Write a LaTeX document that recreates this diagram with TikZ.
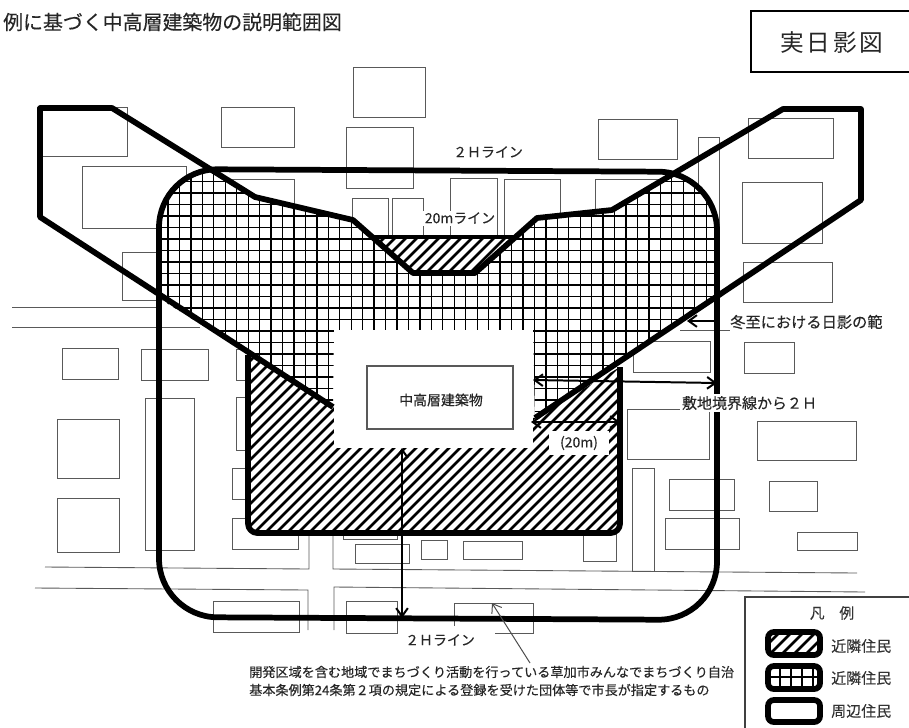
\documentclass[tikz,border=0pt]{standalone}
\usepackage{fontspec}
\setmainfont[FakeBold=.25]{Noto Sans CJK JP}
\newfontfamily\boxfont[LetterSpace=12]{Noto Sans CJK JP}
\usetikzlibrary{arrows.meta}
\tikzset{
  bldg/.style={draw=black!65,line width=.75pt},
  heavy/.style={draw=black,line width=4.9pt,line join=round},
  dim/.style={draw=black,line width=1.7pt,<->},
  note/.style={draw=black!70,line width=.85pt,->},
  gridline/.style={draw=black,line width=1.1pt},
  diagline/.style={draw=black,line width=2.2pt},
  lbl/.style={inner sep=0pt,text=black!85,font=\fontsize{11.9}{14}\selectfont},
  whitelbl/.style={lbl,fill=white,inner sep=1.5pt},
  lgnd/.style={inner sep=0pt,text=black!80,font=\fontsize{12.8}{15}\selectfont,anchor=west},
  swatch/.style={draw=black,line width=4.9pt,rounded corners=5pt},
  >={Straight Barb[length=7pt,width=10pt]}
}
\begin{document}
\begin{tikzpicture}[x=.03cm,y=-.03cm]
  \useasboundingbox (0,0) rectangle (909,727);

  \draw[bldg] (37,107) rectangle (127,156);
  \draw[bldg] (82,166) rectangle (186,228);
  \draw[bldg] (221,107) rectangle (294,147);
  \draw[bldg] (353,67) rectangle (425,117);
  \draw[bldg] (346,127) rectangle (413,188);
  \draw[bldg] (226,179) rectangle (294,215);
  \draw[bldg] (352,198) rectangle (388,240);
  \draw[bldg] (392,198) rectangle (423,240);
  \draw[bldg] (450,178) rectangle (497,240);
  \draw[bldg] (504,179) rectangle (560,240);
  \draw[bldg] (595,179) rectangle (665,215);
  \draw[bldg] (598,119) rectangle (677,159);
  \draw[bldg] (698,137) rectangle (719,240);
  \draw[bldg] (748,118) rectangle (833,158);
  \draw[bldg] (742,182) rectangle (822,243);
  \draw[bldg] (122,252) rectangle (170,300);
  \draw[bldg] (743,262) rectangle (832,302);

  \draw[bldg] (62,348) rectangle (118,379);
  \draw[bldg] (141,349) rectangle (208,380);
  \draw[bldg] (236,349) rectangle (260,380);
  \draw[bldg] (236,397) rectangle (260,450);
  \draw[bldg] (232,468) rectangle (260,499);
  \draw[bldg] (232,518) rectangle (298,549);
  \draw[bldg] (145,398) rectangle (194,550);
  \draw[bldg] (57,419) rectangle (119,478);
  \draw[bldg] (57,498) rectangle (119,552);
  \draw[bldg] (633,341) rectangle (710,372);
  \draw[bldg] (744,342) rectangle (794,373);
  \draw[bldg] (627,409) rectangle (709,459);
  \draw[bldg] (757,421) rectangle (856,460);
  \draw[bldg] (632,468) rectangle (654,571);
  \draw[bldg] (669,479) rectangle (734,510);
  \draw[bldg] (769,481) rectangle (817,511);
  \draw[bldg] (665,518) rectangle (739,549);
  \draw[bldg] (797,532) rectangle (857,550);

  \draw[bldg] (343,520) rectangle (397,539);
  \draw[bldg] (355,544) rectangle (409,563);
  \draw[bldg] (421,540) rectangle (447,559);
  \draw[bldg] (463,541) rectangle (522,559);
  \draw[bldg] (583,520) rectangle (616,561);
  \draw[bldg] (213,601) rectangle (299,632);
  \draw[bldg] (346,601) rectangle (397,633);
  \draw[bldg] (454,626) -- (454,603) -- (533,603) -- (533,633) -- (495,633);

  \draw[bldg] (12,307) -- (160,307);
  \draw[bldg] (12,327) -- (200,327);
  \draw[bldg] (680,330) -- (730,330);
  \draw[bldg] (45,567) -- (309,569) -- (309,533);
  \draw[bldg] (333,533) -- (333,569) -- (857,573);
  \draw[bldg] (35,588) -- (308,590) -- (308,630);
  \draw[bldg] (334,630) -- (334,587) -- (865,592);

  \begin{scope}
    \clip (208,170) -- (255,197) -- (353,220) -- (413,273) -- (475,273) -- (537,218) -- (612,210) -- (675,175)
      .. controls (700,185) and (717,210) .. (717,232) -- (717,298) -- (535,418) -- (533,330) -- (334,330) -- (333,407)
      -- (157,297) -- (159,229) .. controls (159,200) and (180,175) .. (208,170) -- cycle;
    \fill[white] (150,160) rectangle (730,430);
    \foreach \n in {0,...,48} \draw[gridline] ({168+11.45*\n},160) -- ({168+11.45*\n},430);
    \foreach \n in {0,...,23} \draw[gridline] (150,{170+11.5*\n}) -- (730,{170+11.5*\n});
  \end{scope}

  \begin{scope}
    \clip (373,237) -- (517,237) -- (475,273) -- (413,273) -- cycle
      (248,355) [rounded corners=8pt] -- (248,533) -- (620,533) [sharp corners] -- (620,367) -- (535,418) -- (333,407) -- cycle;
    \fill[white] (240,230) rectangle (630,540);
    \foreach \n in {0,...,51} \draw[diagline] ({600+11*\n-230},230) -- ({600+11*\n-600},600);
  \end{scope}

  \fill[white] (334,330) rectangle (533,448);
  \draw[bldg,line width=.9pt] (367,366) rectangle (513,429);

  \draw[heavy,rounded corners=50pt] (159,169) -- (717,172) -- (717,620) -- (159,617) -- cycle;
  \draw[heavy,rounded corners=8pt] (248,355) -- (248,533) -- (620,533) -- (620,367);
  \draw[heavy] (333,407) -- (40,217) -- (40,108) -- (112,108) -- (255,197) -- (353,220) -- (413,273) -- (475,273) -- (537,218)
    -- (612,210) -- (783,109) -- (861,109) -- (861,200) -- (535,418);
  \draw[heavy,line width=4pt] (373,237) -- (518,237);

  \coordinate (bldgN) at (533,380);
  \coordinate (limitE) at (717,383);
  \coordinate (bldgS) at (531,422);
  \coordinate (rangeE) at (620,422);
  \coordinate (bldgB) at (402,448);
  \coordinate (limitB) at (402,618);
  \coordinate (noteTail) at (530,663);
  \coordinate (noteHead) at (492,603);
  \coordinate (winterTail) at (718,321);
  \coordinate (winterHead) at (687,321);

  \draw[dim] (bldgN) -- (limitE);
  \draw[dim] (bldgS) -- (rangeE);
  \draw[dim] (bldgB) -- (limitB);
  \draw[note] (noteTail) -- (noteHead);
  \draw[dim,-{Straight Barb[length=7pt,width=10pt]}] (winterTail) -- (winterHead);

  \node[lbl,anchor=east,font=\fontsize{17}{20}\selectfont] (title) at (342,22) {例に基づく中高層建築物の説明範囲図};

  \draw[draw=black,line width=1.1pt] (920,11) -- (751,11) -- (751,72) -- (920,72);
  \node[inner sep=0pt,font=\boxfont\fontsize{20.2}{24}\selectfont,text=black!85] (kind) at (832,43) {実日影図};

  \node[lbl] (lineN) at (488,152) {２Ｈライン};
  \node[whitelbl] (line20) at (460,218) {20mライン};
  \node[whitelbl,font=\fontsize{12.8}{15}\selectfont] (bound) at (749.5,403) {敷地境界線から２Ｈ};
  \node[lbl,fill=white,inner sep=0pt,minimum width=51pt,minimum height=21pt] (range) at (579,443) {(20m)};
  \node[lbl] (tower) at (441,400) {中高層建築物};
  \node[lbl,anchor=west,font=\fontsize{13}{15}\selectfont] (winter) at (730,322) {冬至における日影の範};
  \node[lbl] (lineS) at (440,640) {２Ｈライン};
  \node[lbl,anchor=west,font=\fontsize{11.2}{13}\selectfont] (noteA) at (249,672) {開発区域を含む地域でまちづくり活動を行っている草加市みんなでまちづくり自治};
  \node[lbl,anchor=west,font=\fontsize{11.2}{13}\selectfont] (noteB) at (249,690) {基本条例第24条第２項の規定による登録を受けた団体等で市長が指定するもの};

  \draw[draw=black!75,line width=.9pt] (920,597) -- (745,597) -- (745,740);
  \node[inner sep=0pt,text=black!80,font=\fontsize{12.6}{15}\selectfont] (legend) at (832,613) {凡\quad 例};
  \begin{scope}
    \clip (768,632) rectangle (820,655);
    \foreach \n in {0,...,7} \draw[diagline] ({1400+12*\n-625},625) -- ({1400+12*\n-660},660);
  \end{scope}
  \draw[swatch] (768,632) rectangle (820,655);
  \foreach \xpos in {780,791,802,813} \draw[gridline] (\xpos,666) -- (\xpos,689);
  \draw[gridline] (768,677) -- (820,677);
  \draw[swatch] (768,666) rectangle (820,689);
  \draw[swatch] (768,700) rectangle (820,722);
  \node[lgnd] (lgndA) at (831,646) {近隣住民};
  \node[lgnd] (lgndB) at (831,678) {近隣住民};
  \node[lgnd] (lgndC) at (831,711) {周辺住民};
\end{tikzpicture}
\end{document}
